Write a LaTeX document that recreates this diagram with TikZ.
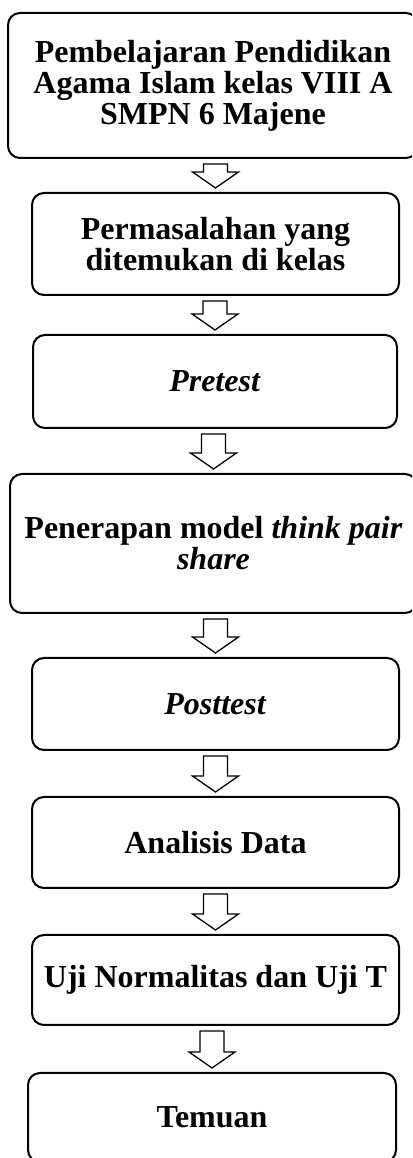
\documentclass[tikz,border=0pt]{standalone}
\usepackage{fontspec}
\setmainfont{Liberation Serif}
\usetikzlibrary{calc}
\newcommand\blockconn[2]{%
  \draw[barrow] let \p1=([yshift=-5pt]#1.south), \p2=([yshift=4pt]#2.north) in
    (\x2-12pt,\y1) -- (\x2-12pt,\y2+16pt) -- (\x2-23pt,\y2+16pt) -- (\x2,\y2)
    -- (\x2+23pt,\y2+16pt) -- (\x2+12pt,\y2+16pt) -- (\x2+12pt,\y1) -- cycle;}
\begin{document}
\begin{tikzpicture}[x=1pt,y=1pt,
  box/.style={draw=black, line width=2pt, rounded corners=12pt, align=center,
    font=\fontsize{32}{31}\selectfont\bfseries, inner sep=0pt},
  barrow/.style={draw=black, line width=1.3pt, fill=white, line join=miter}]
\useasboundingbox (0,0) rectangle (412,1158);
\clip (0,0) rectangle (412,1158);
\node[box, minimum width=410, minimum height=145] (b1) at (213,1072.5)
  {Pembelajaran Pendidikan\\Agama Islam kelas VIII A\\SMPN 6 Majene};
\node[box, minimum width=367, minimum height=102] (b2) at (215.5,914)
  {Permasalahan yang\\ditemukan di kelas};
\node[box, minimum width=364, minimum height=93] (b3) at (215,776.5)
  {\textit{Pretest}};
\node[box, minimum width=407, minimum height=139] (b4) at (213.5,614.5)
  {Penerapan model \textit{think pair}\\\textit{share}};
\node[box, minimum width=367, minimum height=92] (b5) at (215.5,454)
  {\textit{Posttest}};
\node[box, minimum width=367, minimum height=91] (b6) at (215.5,315.5)
  {Analisis Data};
\node[box, minimum width=367, minimum height=90] (b7) at (215.5,178)
  {Uji Normalitas dan Uji T};
\node[box, minimum width=368, minimum height=89] (b8) at (212,40.5)
  {Temuan};
\blockconn{b1}{b2}
\blockconn{b2}{b3}
\blockconn{b3}{b4}
\blockconn{b4}{b5}
\blockconn{b5}{b6}
\blockconn{b6}{b7}
\blockconn{b7}{b8}
\end{tikzpicture}
\end{document}
